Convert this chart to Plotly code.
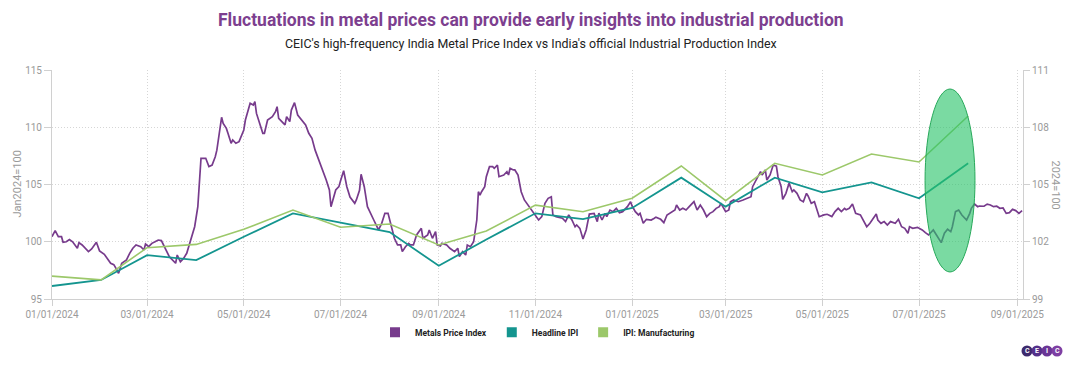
import pandas as pd
import plotly.graph_objects as go

# ---------------- data ----------------
START = "2024-01-01"
# Metals Price Index (Jan2024=100): day offsets from 2024-01-01 and values
metal_day = [0, 2, 4, 6, 7, 9, 11, 13, 16, 17, 19, 21, 23, 25, 28, 30, 33, 37, 39, 41, 42, 44, 47, 49, 51, 53, 56, 58, 59, 61, 63, 65, 67, 69, 71, 74, 78, 79, 81, 83, 85, 88, 90, 92, 93, 94, 97, 99, 101, 103, 104, 106, 107, 108, 110, 111, 113, 114, 116, 118, 120, 121, 122, 124, 125, 127, 128, 129, 131, 133, 134, 136, 139, 141, 142, 143, 145, 147, 148, 150, 151, 153, 155, 158, 160, 162, 164, 166, 168, 171, 173, 175, 176, 179, 181, 182, 184, 186, 188, 191, 192, 194, 195, 197, 199, 203, 206, 208, 210, 212, 214, 216, 218, 220, 221, 223, 225, 226, 228, 230, 233, 234, 237, 238, 240, 242, 243, 245, 246, 249, 251, 254, 256, 257, 259, 261, 262, 264, 266, 268, 269, 270, 271, 273, 274, 276, 278, 279, 281, 282, 285, 287, 288, 289, 291, 292, 294, 296, 298, 301, 303, 305, 307, 309, 311, 313, 315, 316, 318, 322, 324, 326, 328, 330, 331, 333, 335, 337, 339, 342, 344, 345, 347, 349, 350, 352, 354, 356, 358, 360, 363, 365, 366, 368, 370, 371, 373, 375, 378, 380, 381, 384, 386, 388, 391, 393, 394, 396, 398, 400, 402, 405, 407, 409, 411, 413, 415, 417, 419, 421, 422, 425, 427, 428, 430, 433, 436, 438, 441, 442, 444, 447, 448, 450, 451, 453, 455, 457, 458, 460, 461, 463, 465, 467, 468, 470, 472, 474, 476, 477, 479, 481, 482, 484, 487, 489, 490, 492, 494, 496, 498, 500, 501, 503, 505, 507, 510, 512, 514, 516, 518, 520, 521, 523, 525, 527, 529, 532, 534, 536, 538, 540, 541, 543, 546, 549, 551, 553, 556, 558, 561, 563, 565, 567, 568, 570, 572, 574, 575, 577, 579, 580, 582, 584, 585, 588, 590, 592, 594, 596, 598, 600, 602, 604, 606, 608, 610, 612]
metal_val = [100.44, 100.97, 100.44, 100.44, 99.95, 100.0, 100.2, 100.0, 99.43, 99.92, 99.72, 99.43, 99.14, 99.37, 99.95, 99.2, 98.9, 98.12, 98.0, 97.53, 97.24, 98.12, 98.41, 98.99, 99.43, 99.72, 99.57, 99.28, 99.8, 99.57, 99.86, 100.0, 100.15, 100.1, 99.57, 98.7, 98.12, 98.84, 98.26, 98.55, 98.99, 100.44, 101.31, 103.06, 105.1, 107.29, 107.29, 106.56, 106.7, 107.43, 108.0, 109.76, 110.87, 110.34, 109.9, 109.47, 108.6, 108.89, 108.6, 108.74, 109.32, 109.76, 110.63, 111.5, 112.09, 111.94, 112.23, 111.21, 110.34, 109.47, 109.47, 110.63, 110.92, 111.36, 111.8, 110.78, 110.49, 110.2, 110.92, 110.5, 111.5, 112.15, 111.07, 110.49, 110.2, 109.47, 109.03, 108.0, 107.29, 106.27, 105.39, 104.52, 103.06, 104.52, 104.81, 105.3, 106.2, 104.81, 103.9, 103.36, 103.65, 104.5, 105.89, 104.81, 103.06, 101.9, 101.03, 101.61, 102.48, 102.48, 101.31, 100.3, 99.72, 99.72, 99.14, 99.57, 99.86, 99.72, 99.72, 100.59, 101.17, 100.3, 100.59, 101.03, 100.3, 100.88, 99.72, 99.63, 99.86, 99.72, 99.43, 99.14, 99.43, 98.7, 99.14, 98.84, 99.72, 99.57, 100.0, 101.9, 104.37, 104.08, 104.37, 104.81, 105.68, 106.56, 106.56, 106.41, 106.7, 105.68, 105.83, 106.12, 105.83, 106.41, 106.27, 106.27, 105.83, 104.37, 103.65, 103.06, 102.63, 102.19, 101.9, 102.19, 103.36, 103.79, 103.93, 102.34, 102.19, 102.05, 101.76, 102.34, 101.9, 101.31, 101.46, 101.17, 100.24, 101.03, 102.42, 102.48, 101.76, 102.5, 101.9, 102.48, 102.2, 102.77, 102.63, 102.92, 102.54, 102.63, 103.06, 103.5, 103.12, 102.63, 102.34, 102.48, 101.61, 101.96, 101.9, 102.05, 102.15, 101.96, 101.67, 102.34, 102.63, 102.77, 103.21, 102.77, 102.92, 102.77, 103.06, 103.5, 102.77, 103.21, 102.77, 102.19, 102.48, 102.63, 102.92, 103.06, 103.36, 102.63, 102.77, 103.5, 103.65, 103.5, 103.65, 103.79, 103.93, 104.81, 105.39, 106.12, 105.83, 106.27, 105.39, 105.83, 106.7, 106.6, 105.68, 104.81, 103.71, 104.23, 105.1, 104.37, 104.52, 104.23, 103.65, 103.5, 104.23, 104.0, 103.36, 103.5, 103.06, 102.19, 102.35, 102.4, 102.34, 102.2, 102.63, 102.92, 102.63, 102.92, 102.8, 102.92, 103.29, 102.48, 102.34, 101.76, 101.31, 101.61, 102.05, 102.42, 101.9, 101.61, 101.76, 101.46, 101.76, 101.61, 101.96, 101.31, 101.17, 100.74, 101.31, 101.17, 101.26, 101.03, 100.79, 100.59, 101.03, 100.6, 99.92, 100.74, 101.09, 100.88, 101.31, 102.63, 102.77, 102.34, 102.19, 101.9, 102.48, 102.92, 103.29, 103.06, 103.12, 103.1, 103.29, 103.21, 103.06, 103.1, 102.92, 102.95, 102.48, 102.54, 102.83, 102.72, 102.48, 102.72]

# Monthly IPI series (2024=100), Jan 2024 .. Aug 2025
ipi_months = ["2024-01-01", "2024-02-01", "2024-03-01", "2024-04-01", "2024-05-01", "2024-06-01",
              "2024-07-01", "2024-08-01", "2024-09-01", "2024-10-01", "2024-11-01", "2024-12-01",
              "2025-01-01", "2025-02-01", "2025-03-01", "2025-04-01", "2025-05-01", "2025-06-01",
              "2025-07-01", "2025-08-01"]
headline_ipi = [99.68, 100.0, 101.3, 101.04, 102.26, 103.49, 103.0, 102.51, 100.74, 102.12,
                103.49, 103.19, 103.77, 105.36, 103.84, 105.36, 104.59, 105.11, 104.28, 106.11]
manufacturing_ipi = [100.2, 100.0, 101.69, 101.86, 102.65, 103.66, 102.76, 102.93, 101.83, 102.56,
                     103.92, 103.57, 104.28, 105.97, 104.15, 106.11, 105.5, 106.6, 106.18, 108.59]

series_names = ["Metals Price Index", "Headline IPI", "IPI: Manufacturing"]
x_tick_labels_fmt = "%m/%d/%Y"

# ---------------- styling ----------------
PURPLE = "#773b8c"
TEAL = "#14958f"
GREEN = "#9cc86a"
TITLE_PURPLE = "#7d3f8f"
GRID = "#d6d6d6"
AXIS = "#d0d0d0"
TICKTXT = "#9a9a9a"
FONT = "Roboto"

metal_dates = pd.Timestamp(START) + pd.to_timedelta(metal_day, unit="D")

fig = go.Figure()
fig.add_trace(go.Scatter(x=metal_dates, y=metal_val, mode="lines", name=series_names[0],
                         line=dict(color=PURPLE, width=1.7), showlegend=False,
                         hoverinfo="skip"))
fig.add_trace(go.Scatter(x=ipi_months, y=headline_ipi, mode="lines", name=series_names[1],
                         line=dict(color=TEAL, width=1.8), yaxis="y2", showlegend=False))
fig.add_trace(go.Scatter(x=ipi_months, y=manufacturing_ipi, mode="lines", name=series_names[2],
                         line=dict(color=GREEN, width=1.6), yaxis="y2", showlegend=False))

# legend entries with square swatches
for nm, col in zip(series_names, [PURPLE, TEAL, GREEN]):
    fig.add_trace(go.Scatter(x=[None], y=[None], mode="markers", name=nm,
                             marker=dict(symbol="square", size=10, color=col)))

# highlight ellipse
fig.add_shape(type="circle", xref="x", yref="y",
              x0="2025-07-04 19:00", x1="2025-08-05 07:00", y0=97.36, y1=113.34,
              fillcolor="rgba(40,196,105,0.62)", line=dict(color="#27a85a", width=1),
              layer="above")

fig.update_layout(
    width=1070, height=365,
    margin=dict(l=52, r=47, t=70, b=66),
    paper_bgcolor="white", plot_bgcolor="white",
    font=dict(family=FONT, color="#333"),
    showlegend=True,
    legend=dict(orientation="h", x=0.5, xanchor="center", y=-0.145, yanchor="middle",
                font=dict(size=8.5, color="#222", weight="bold"), itemwidth=30,
                tracegroupgap=0),
    xaxis=dict(type="date", range=["2024-01-01", "2025-09-04 14:00"],
               tick0="2024-01-01", dtick="M2", tickformat=x_tick_labels_fmt,
               showgrid=True, gridcolor=GRID, griddash="1px,2px", gridwidth=1,
               showline=True, linecolor=AXIS, linewidth=1,
               ticks="outside", ticklen=6, tickcolor=AXIS,
               tickfont=dict(size=10, color=TICKTXT), automargin=False,
               zeroline=False),
    yaxis=dict(range=[95, 115], dtick=5, tick0=95,
               showgrid=True, gridcolor=GRID, griddash="1px,2px", gridwidth=1,
               showline=True, linecolor=AXIS, linewidth=1,
               ticks="outside", ticklen=7, tickcolor=AXIS,
               tickfont=dict(size=10, color=TICKTXT), automargin=False,
               zeroline=False),
    yaxis2=dict(range=[99, 111], dtick=3, tick0=99, overlaying="y", side="right",
                showgrid=False, showline=True, linecolor=AXIS, linewidth=1,
                ticks="outside", ticklen=6, tickcolor=AXIS,
                tickfont=dict(size=10, color=TICKTXT), automargin=False,
                zeroline=False),
)

annotations = [
    dict(text="<b>Fluctuations in metal prices can provide early insights into industrial production</b>",
         xref="paper", yref="paper", x=0.4935, y=1.22, xanchor="center", yanchor="middle",
         showarrow=False, font=dict(family=FONT, size=17.5, color=TITLE_PURPLE)),
    dict(text="CEIC's high-frequency India Metal Price Index vs India's official Industrial Production Index",
         xref="paper", yref="paper", x=0.4935, y=1.116, xanchor="center", yanchor="middle",
         showarrow=False, font=dict(family=FONT, size=12.4, color="#222")),
    dict(text="Jan2024=100", xref="paper", yref="paper", x=-0.036, y=0.5,
         xanchor="center", yanchor="middle", textangle=-90, showarrow=False,
         font=dict(family=FONT, size=11, color=TICKTXT)),
    dict(text="2024=100", xref="paper", yref="paper", x=1.033, y=0.5,
         xanchor="center", yanchor="middle", textangle=90, showarrow=False,
         font=dict(family=FONT, size=11, color=TICKTXT)),
]

# CEIC logo: four purple circles with letters
logo_cols = ["#3e2a6d", "#55308a", "#6a3596", "#7e3fa3"]
for i, (ch, col) in enumerate(zip("CEIC", logo_cols)):
    cx = 4 + 10 * i
    fig.add_shape(type="circle", xref="paper", yref="paper", xsizemode="pixel", ysizemode="pixel",
                  xanchor=1, yanchor=0, x0=cx - 5.5, x1=cx + 5.5, y0=-57.5, y1=-46.5,
                  fillcolor=col, line=dict(width=0), layer="above")
    annotations.append(dict(text=f"<b>{ch}</b>", xref="paper", yref="paper", x=1, y=0,
                            xshift=cx, yshift=-52, xanchor="center", yanchor="middle",
                            showarrow=False, font=dict(family=FONT, size=7, color="white")))

fig.update_layout(annotations=annotations)
fig.write_html("out.html", config={"displayModeBar": False},
               post_script="document.body.style.margin='0px';document.body.style.overflow='hidden';")
